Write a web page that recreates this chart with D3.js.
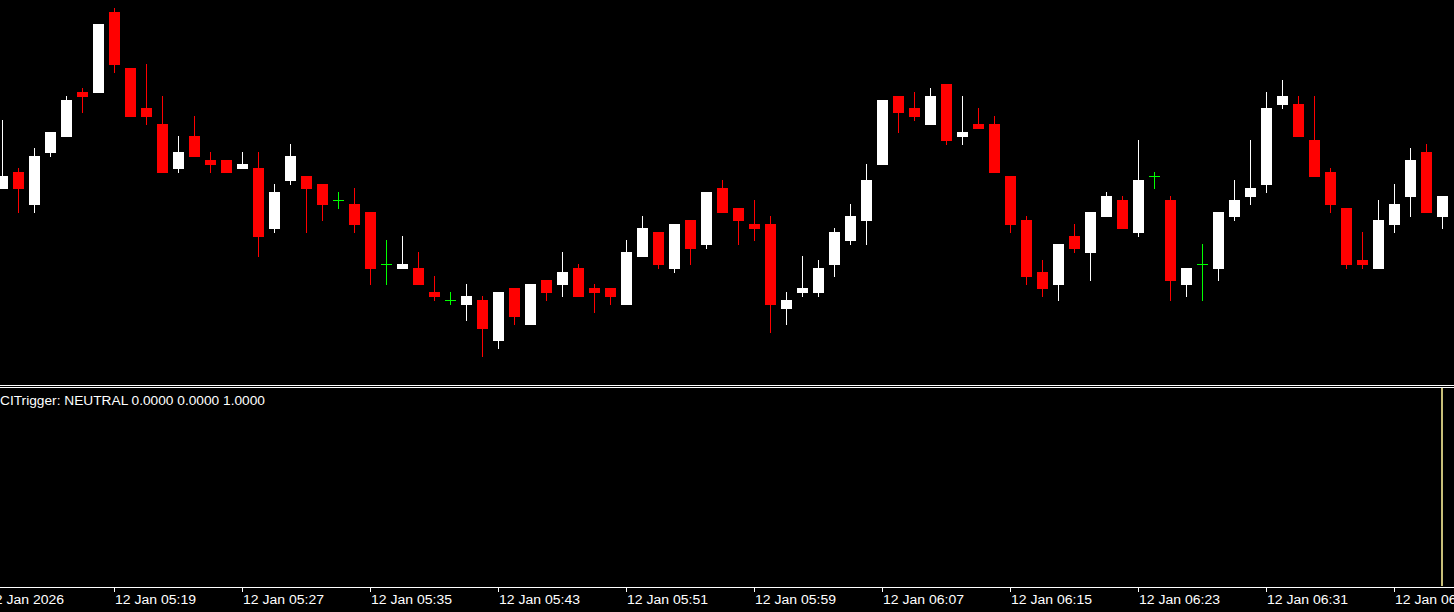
<!DOCTYPE html>
<html>
<head>
<meta charset="utf-8">
<title>CITrigger chart</title>
<script src="https://cdn.jsdelivr.net/npm/d3@7"></script>
<style>
    html, body { margin: 0; padding: 0; background: #000000; overflow: hidden; }
    svg { display: block; }
</style>
</head>
<body>
<div id="graphContainer"></div>
<script>
"use strict";
// one-minute bars, 12 Jan 2026 05:12 .. 06:42
const barOpen = [
    1.16811, 1.16828, 1.16795, 1.16847, 1.16863, 1.16908, 1.16907, 1.16988, 1.16932, 1.16892,
    1.16876, 1.16831, 1.16864, 1.16840, 1.16840, 1.16831, 1.16832, 1.16771, 1.16819, 1.16824,
    1.16816, 1.16800, 1.16796, 1.16788, 1.16736, 1.16731, 1.16732, 1.16708, 1.16700, 1.16695,
    1.16700, 1.16659, 1.16712, 1.16675, 1.16720, 1.16715, 1.16732, 1.16712, 1.16712, 1.16695,
    1.16743, 1.16768, 1.16731, 1.16780, 1.16755, 1.16812, 1.16792, 1.16776, 1.16776, 1.16691,
    1.16707, 1.16707, 1.16735, 1.16759, 1.16779, 1.16835, 1.16904, 1.16892, 1.16875, 1.16916,
    1.16863, 1.16876, 1.16876, 1.16824, 1.16780, 1.16728, 1.16715, 1.16764, 1.16747, 1.16783,
    1.16800, 1.16767, 1.16824, 1.16800, 1.16715, 1.16736, 1.16731, 1.16783, 1.16803, 1.16815,
    1.16895, 1.16896, 1.16860, 1.16828, 1.16792, 1.16740, 1.16731, 1.16775, 1.16803, 1.16848,
    1.16783
]
const barHigh = [
    1.16880, 1.16832, 1.16852, 1.16868, 1.16904, 1.16912, 1.16976, 1.16992, 1.16932, 1.16936,
    1.16904, 1.16864, 1.16884, 1.16848, 1.16840, 1.16848, 1.16848, 1.16816, 1.16856, 1.16824,
    1.16816, 1.16808, 1.16812, 1.16788, 1.16760, 1.16764, 1.16748, 1.16724, 1.16708, 1.16716,
    1.16704, 1.16708, 1.16712, 1.16716, 1.16720, 1.16748, 1.16736, 1.16716, 1.16712, 1.16760,
    1.16784, 1.16768, 1.16776, 1.16780, 1.16808, 1.16820, 1.16792, 1.16800, 1.16784, 1.16708,
    1.16744, 1.16740, 1.16772, 1.16796, 1.16836, 1.16900, 1.16904, 1.16908, 1.16912, 1.16916,
    1.16904, 1.16892, 1.16884, 1.16824, 1.16784, 1.16740, 1.16756, 1.16776, 1.16788, 1.16808,
    1.16804, 1.16860, 1.16828, 1.16804, 1.16732, 1.16756, 1.16788, 1.16820, 1.16860, 1.16908,
    1.16920, 1.16904, 1.16904, 1.16832, 1.16792, 1.16768, 1.16800, 1.16816, 1.16852, 1.16856,
    1.16804
]
const barLow = [
    1.16811, 1.16787, 1.16787, 1.16843, 1.16863, 1.16887, 1.16907, 1.16927, 1.16883, 1.16875,
    1.16827, 1.16827, 1.16843, 1.16827, 1.16827, 1.16831, 1.16743, 1.16767, 1.16815, 1.16767,
    1.16779, 1.16791, 1.16767, 1.16715, 1.16715, 1.16731, 1.16715, 1.16699, 1.16695, 1.16679,
    1.16643, 1.16651, 1.16675, 1.16675, 1.16699, 1.16703, 1.16703, 1.16687, 1.16695, 1.16695,
    1.16743, 1.16731, 1.16727, 1.16735, 1.16751, 1.16787, 1.16755, 1.16759, 1.16667, 1.16675,
    1.16703, 1.16703, 1.16723, 1.16755, 1.16755, 1.16835, 1.16867, 1.16879, 1.16875, 1.16855,
    1.16855, 1.16871, 1.16827, 1.16767, 1.16715, 1.16703, 1.16699, 1.16747, 1.16719, 1.16783,
    1.16771, 1.16763, 1.16811, 1.16699, 1.16703, 1.16699, 1.16719, 1.16779, 1.16795, 1.16807,
    1.16891, 1.16863, 1.16823, 1.16787, 1.16731, 1.16731, 1.16731, 1.16767, 1.16783, 1.16787,
    1.16771
]
const barClose = [
    1.16824, 1.16811, 1.16844, 1.16868, 1.16900, 1.16903, 1.16976, 1.16935, 1.16883, 1.16883,
    1.16827, 1.16848, 1.16843, 1.16835, 1.16827, 1.16836, 1.16763, 1.16808, 1.16844, 1.16811,
    1.16795, 1.16800, 1.16775, 1.16731, 1.16736, 1.16736, 1.16715, 1.16703, 1.16700, 1.16704,
    1.16671, 1.16708, 1.16683, 1.16716, 1.16707, 1.16728, 1.16703, 1.16707, 1.16703, 1.16748,
    1.16772, 1.16735, 1.16776, 1.16751, 1.16808, 1.16787, 1.16779, 1.16771, 1.16695, 1.16700,
    1.16712, 1.16732, 1.16768, 1.16784, 1.16820, 1.16900, 1.16887, 1.16883, 1.16904, 1.16859,
    1.16868, 1.16871, 1.16827, 1.16775, 1.16723, 1.16711, 1.16756, 1.16751, 1.16788, 1.16804,
    1.16771, 1.16820, 1.16824, 1.16719, 1.16732, 1.16736, 1.16788, 1.16800, 1.16812, 1.16892,
    1.16904, 1.16863, 1.16823, 1.16795, 1.16735, 1.16735, 1.16780, 1.16796, 1.16840, 1.16787,
    1.16804
]

const tickLabels = [
    "12 Jan 2026", "12 Jan 05:19", "12 Jan 05:27", "12 Jan 05:35", "12 Jan 05:43", "12 Jan 05:51",
    "12 Jan 05:59", "12 Jan 06:07", "12 Jan 06:15", "12 Jan 06:23", "12 Jan 06:31", "12 Jan 06:39"
]

// CITrigger buffers on the last bar
const triggerState = "NEUTRAL"
const triggerValues = [0.0, 0.0, 1.0]

const colors = {
    up: "#ffffff",
    down: "#ff0000",
    doji: "#00ff00",
    text: "#ffffff",
    histogram: "#c8bf78"
}

const measurements = {
    width: 1454,
    height: 612,
    mainTop: 0,
    mainBottom: 380,
    subTop: 388,
    subBottom: 586,
    axisY: 587
}

;(function () {
    const firstBar = new Date(2026, 0, 12, 5, 12)
    const lastBar = d3.timeMinute.offset(firstBar, barOpen.length - 1)
    const times = d3.timeMinute.range(firstBar, d3.timeMinute.offset(lastBar, 1))

    const bars = times.map((t, i) => ({
        time: t,
        open: barOpen[i],
        high: barHigh[i],
        low: barLow[i],
        close: barClose[i]
    }))

    const svgContainer = d3.select("#graphContainer").append("svg")
        .attr("width", measurements.width)
        .attr("height", measurements.height)
        .style("background", "#000000")
        .attr("shape-rendering", "crispEdges")

    // 16 px per minute
    const scaleX = d3.scaleTime()
        .domain([firstBar, lastBar])
        .range([2, 2 + 16 * (barOpen.length - 1)])

    const scaleY = d3.scaleLinear()
        .domain([1.16620, 1.17000])
        .range([measurements.mainBottom, measurements.mainTop])

    const barColor = function (d) {
        if (d.close > d.open) return colors.up
        if (d.close < d.open) return colors.down
        return colors.doji
    }

    const candles = svgContainer.append("g").attr("class", "candles")
        .selectAll("g")
        .data(bars)
        .enter()
        .append("g")

    // wick
    candles.append("rect")
        .attr("x", d => Math.round(scaleX(d.time)))
        .attr("y", d => Math.round(scaleY(d.high)))
        .attr("width", 1)
        .attr("height", d => Math.max(1, Math.round(scaleY(d.low)) - Math.round(scaleY(d.high))))
        .attr("fill", barColor)

    // body (a doji is just a flat line)
    candles.append("rect")
        .attr("x", d => Math.round(scaleX(d.time)) - 5)
        .attr("y", d => Math.round(scaleY(Math.max(d.open, d.close))))
        .attr("width", 11)
        .attr("height", d => Math.max(1, Math.round(scaleY(Math.min(d.open, d.close))) - Math.round(scaleY(Math.max(d.open, d.close)))))
        .attr("fill", barColor)

    // window separators
    svgContainer.append("rect")
        .attr("x", 0).attr("y", 385)
        .attr("width", measurements.width).attr("height", 1)
        .attr("fill", "#ffffff")
    svgContainer.append("rect")
        .attr("x", 0).attr("y", 387)
        .attr("width", measurements.width).attr("height", 1)
        .attr("fill", "#ffffff")

    // indicator sub window
    const scaleSub = d3.scaleLinear()
        .domain([0, 1])
        .range([measurements.subBottom, measurements.subTop])

    const lastTime = times[times.length - 1]
    svgContainer.append("g")
        .selectAll("rect")
        .data([triggerValues[2]])
        .enter()
        .append("rect")
        .attr("x", Math.round(scaleX(lastTime)) - 1)
        .attr("y", d => scaleSub(d))
        .attr("width", 2)
        .attr("height", d => scaleSub(0) - scaleSub(d))
        .attr("fill", colors.histogram)

    const label = "CITrigger: " + triggerState + " " +
        triggerValues.map(v => v.toFixed(4)).join(" ")
    svgContainer.append("text")
        .attr("x", 0)
        .attr("y", 405)
        .attr("fill", colors.text)
        .style("font-family", "'Liberation Sans', Arial, sans-serif")
        .style("font-size", "13.7px")
        .attr("textLength", 265)
        .attr("lengthAdjust", "spacingAndGlyphs")
        .text(label)

    // time axis
    svgContainer.append("rect")
        .attr("x", 0).attr("y", measurements.axisY)
        .attr("width", measurements.width).attr("height", 1)
        .attr("fill", "#ffffff")

    const tickTimes = d3.timeMinute.range(new Date(2026, 0, 12, 5, 11), d3.timeMinute.offset(lastBar, 1), 8)

    const xAxis = d3.axisBottom()
        .scale(scaleX)
        .tickValues(tickTimes)
        .tickFormat((d, i) => tickLabels[i])
        .tickSize(4)

    const axisG = svgContainer.append("g")
        .attr("transform", `translate(0,${measurements.axisY + 1})`)
        .call(xAxis)

    axisG.select(".domain").remove()
    axisG.selectAll(".tick line").attr("stroke", "#ffffff")
    const tickText = axisG.selectAll(".tick text")
        .attr("fill", colors.text)
        .style("font-family", "'Liberation Sans', Arial, sans-serif")
        .style("font-size", "12.5px")
        .attr("text-anchor", "start")
        .attr("x", 0.5)
        .attr("y", 16)
        .attr("dy", null)

    // widen labels a little: "12 Jan 05:19" is about 81px wide in the terminal font
    const refWidth = tickText.nodes()[1].getComputedTextLength()
    const stretch = 81 / refWidth
    tickText.each(function () {
        d3.select(this)
            .attr("textLength", this.getComputedTextLength() * stretch)
            .attr("lengthAdjust", "spacingAndGlyphs")
    })
})()
</script>
</body>
</html>
